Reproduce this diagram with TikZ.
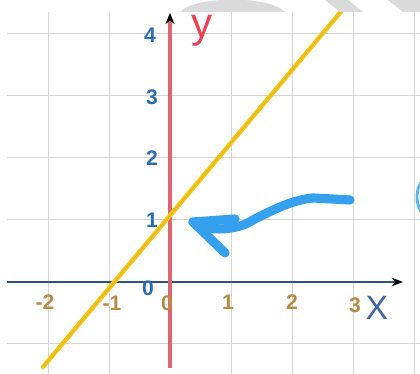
\documentclass[tikz,border=0pt]{standalone}
\usepackage{fontspec}
\setmainfont{Liberation Sans}
\usetikzlibrary{arrows.meta}
\usetikzlibrary{positioning}

\definecolor{gridgray}{RGB}{214,214,214}
\definecolor{wmgray}{RGB}{218,218,218}
\definecolor{axisred}{RGB}{224,100,112}
\definecolor{axisblue}{RGB}{44,84,124}
\definecolor{lineyellow}{RGB}{238,204,30}
\definecolor{numblue}{RGB}{44,108,178}
\definecolor{numbrown}{RGB}{184,138,68}
\definecolor{penblue}{RGB}{52,160,238}
\definecolor{labred}{RGB}{236,64,84}
\definecolor{labblue}{RGB}{62,102,162}

\begin{document}
\begin{tikzpicture}[x=1.525cm,y=1.55cm,
  gridline/.style={gridgray,line width=0.7pt},
  ylab/.style={text=numblue,font=\bfseries\fontsize{15}{15}\selectfont,inner sep=0pt},
  xlab/.style={text=numbrown,font=\bfseries\fontsize{15}{15}\selectfont,inner sep=0pt},
  pen/.style={penblue,line width=6.5pt,line cap=round,line join=round}]
\useasboundingbox (-2.787,-1.484) rectangle (4.098,4.548);
\fill[white] (-2.787,-1.484) rectangle (4.098,4.548);

\begin{scope}
\clip (-2.787,-1.484) rectangle (4.098,4.355);
% grid
\draw[gridline] (-2.672,-1) -- (4.098,-1);
\draw[gridline] (-2.672,1) -- (4.098,1);
\draw[gridline] (-2.672,2) -- (4.098,2);
\draw[gridline] (-2.672,3) -- (4.098,3);
\draw[gridline] (-2.672,4) -- (4.098,4);
\draw[gridline] (-2,-1.484) -- (-2,4.355);
\draw[gridline] (-1,-1.484) -- (-1,4.355);
\draw[gridline] (1,-1.484) -- (1,4.355);
\draw[gridline] (2,-1.484) -- (2,4.355);
\draw[gridline] (3,-1.484) -- (3,4.355);
\draw[gridline] (4,-1.484) -- (4,4.355);

% axes
\coordinate (xstart) at (-2.672,0);
\coordinate (xend) at (3.82,0);
\coordinate (ystart) at (0,-1.387);
\coordinate (yend) at (0,4.34);
\draw[axisblue,line width=2pt,-{Stealth[length=8pt,width=6pt,black]}] (xstart) -- (xend);
\draw[axisred,line width=2.6pt,-{Stealth[length=8pt,width=6.5pt,black]}] (ystart) -- (yend);

% the line
\coordinate (lstart) at (-2.082,-1.371);
\coordinate (lend) at (2.836,4.40);
\draw[lineyellow,line width=3.2pt,line cap=round] (lstart) -- (lend);
\draw[orange!40!lineyellow,line width=0.8pt] (lstart) -- (lend);

% labels
\node[ylab] (lab4) at (-0.328,3.984) {4};
\node[ylab] (lab3) at (-0.295,2.984) {3};
\node[ylab] (lab2) at (-0.295,2.0) {2};
\node[ylab] (lab1) at (-0.295,1.0) {1};
\node[ylab] (lab0) at (-0.361,-0.097) {0};
\node[xlab] (labm2) at (-2.049,-0.323) {-2};
\node[xlab] (labm1) at (-0.951,-0.339) {-1};
\node[xlab] (labx0) at (-0.049,-0.339) {0};
\node[xlab] (labx1) at (0.951,-0.323) {1};
\node[xlab] (labx2) at (2.0,-0.323) {2};
\node[xlab] (labx3) at (3.033,-0.371) {3};
\node[text=labblue,font=\fontsize{24}{24}\selectfont,inner sep=0pt] (labx) at (3.393,-0.42) {X};
\node[text=labred,font=\fontsize{30}{30}\selectfont,inner sep=0pt] (laby) at (0.525,4.06) {y};

% pen arrow
\coordinate (p1) at (2.951,1.323);
\coordinate (p2) at (2.344,1.355);
\coordinate (p3) at (1.803,1.242);
\coordinate (p4) at (1.361,1.0);
\coordinate (p5) at (1.033,0.806);
\coordinate (p6) at (0.541,0.887);
\coordinate (tip) at (0.377,0.968);
\coordinate (barbup) at (1.066,1.016);
\coordinate (barbdown) at (0.902,0.468);
\draw[pen] (p1) -- (p2) .. controls (2.0,1.33) and (1.6,1.12) .. (p4)
  .. controls (1.15,0.86) and (0.8,0.82) .. (p6) -- (tip);
\draw[pen] (barbup) -- (tip) -- (barbdown);
\coordinate (c1) at (4.15,1.645);
\coordinate (c2) at (4.12,1.129);
\draw[penblue!80,line width=2pt] (c1) .. controls (4.02,1.516) and (4.02,1.274) .. (c2);
\end{scope}

% watermark
\fill[wmgray] (0.164,4.355) .. controls (0.41,4.62) and (1.639,4.62) .. (1.885,4.355) -- cycle;
\fill[wmgray] (2.541,4.548) -- (2.918,4.548) -- (3.164,4.355) -- (2.787,4.355) -- cycle;
\fill[wmgray] (3.574,4.548) -- (4.098,4.548) -- (4.098,4.355) -- (3.82,4.355) -- cycle;
\end{tikzpicture}
\end{document}
